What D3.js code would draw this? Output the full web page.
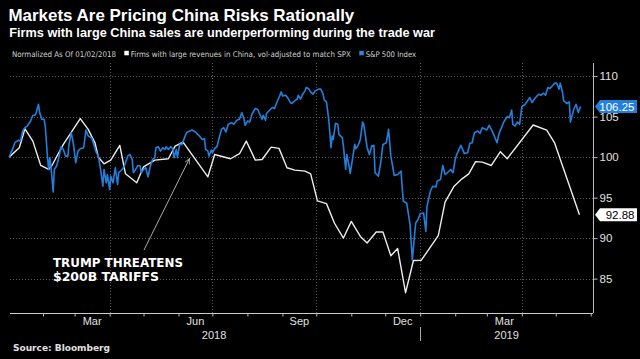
<!DOCTYPE html>
<html><head><meta charset="utf-8">
<script src="https://cdn.jsdelivr.net/npm/d3@7"></script>
<style>
html,body{margin:0;padding:0;background:#000;}
svg{display:block;}
</style></head>
<body>
<script>
// ---------- DATA ----------
const startDate = new Date(2018, 0, 1);
// days since 2018-01-01
const spxDays = [1,4,6,9,11,13,15,17,20,22,24,25,27,28,30,32,33,35,36,37,38,40,41,43,45,47,49,51,53,54,56,58,60,62,64,67,69,71,74,76,78,80,82,84,85,87,88,90,91,93,95,97,98,101,103,106,108,110,111,113,115,117,118,120,122,124,126,128,130,131,133,135,137,139,140,142,144,146,147,149,150,152,154,156,158,161,163,166,168,170,172,174,175,177,178,180,181,183,185,187,189,191,193,195,198,200,201,203,205,207,209,210,212,214,216,219,221,223,225,226,228,229,231,234,236,238,240,242,243,246,248,250,251,254,256,257,259,261,263,264,266,268,270,272,275,277,279,280,282,284,286,287,288,290,292,293,296,297,299,300,302,303,305,307,308,310,312,314,315,318,320,322,324,325,328,330,332,335,337,339,342,345,348,350,353,356,358,361,363,365,368,370,371,374,376,379,380,383,385,387,389,392,394,396,397,401,404,407,409,411,413,416,418,420,424,426,428,430,433,435,437,439,442,444,446,447,449,451,453,455,458,460,462,464,466,468,470,472,474,476,478,480,482,484,486,488,489,491,492,495,497,498,501,503,505,507];
const spxValues = [100,100.95,101.78,102.07,101.98,103.22,103.64,103.84,104.46,105.17,105.17,105.5,106.53,105.5,104.67,104.67,103.84,99.93,98.48,99.93,98.9,95.71,98.48,98.9,99.93,101.29,100.95,100.12,100.12,101.57,103.02,101.57,99.3,100.74,101.04,101.16,103.35,102.6,102.4,101.57,100.62,100.12,98.48,96.4,98.48,96.83,97.86,96.0,97.65,96.83,98.69,96.62,98.07,98.48,98.9,100.12,100.33,99.72,98.07,98.48,98.97,98.9,98.07,98.48,98.69,97.57,98.9,99.72,99.93,101.16,101.29,100.74,101.16,100.95,101.29,100.95,101.29,101.04,99.93,100.95,99.93,101.57,101.57,102.28,103.02,103.22,103.35,103.1,102.81,102.53,102.19,102.28,100.95,100.74,100.12,100.87,100.54,101.04,101.29,102.4,103.43,103.64,103.1,104.05,104.26,104.05,104.26,104.59,104.67,105.5,104.67,103.93,104.46,104.34,105.29,106.0,105.91,105.29,104.67,105.17,104.55,105.42,105.7,106.12,106.0,106.74,107.36,108.05,107.56,107.64,107.24,106.74,106.62,106.94,107.15,107.64,107.15,107.77,108.18,108.6,108.48,108.05,107.77,108.18,108.39,108.39,107.77,107.06,106.81,104.67,101.16,102.6,102.19,104.17,104.05,102.81,102.4,101.36,98.48,100.33,98.9,97.98,99.72,101.57,101.04,101.45,102.19,104.34,104.05,101.16,100.33,101.36,101.45,98.07,97.65,99.3,101.57,101.78,103.43,100.12,97.73,97.86,98.27,94.55,94.35,91.66,87.32,91.87,92.28,93.02,93.1,90.83,93.93,95.79,96.41,96.33,97.03,97.24,98.97,97.86,98.07,98.48,98.07,99.72,100.21,101.45,100.46,100.54,101.7,101.78,103.02,103.22,102.94,103.64,103.35,103.93,103.43,102.81,101.78,103.02,103.64,104.34,105.0,104.88,105.82,104.05,103.84,104.34,104.05,106.24,106.53,106.94,107.36,106.74,107.15,107.48,107.77,107.64,107.89,107.64,108.6,108.48,108.8,109.13,109.13,108.39,109.13,107.98,106.94,106.62,106.82,104.34,105.91,106.53,105.5,106.25];
const chinaDays = [1,10,15,22,29,36,39,49,64,71,77,80,85,91,99,104,114,120,130,142,148,155,177,183,197,205,211,219,225,233,240,247,254,263,268,274,282,289,297,304,312,318,326,332,339,345,352,359,366,381,387,395,402,408,414,420,428,436,442,465,477,484,506];
const chinaValues = [100,101.16,103.5,101.98,98.97,98.48,99.0,101.57,104.76,103.43,101.78,100.0,99.18,99.63,101.45,97.94,96.83,98.81,99.63,99.8,101.36,101.86,97.57,100.33,99.8,100.42,101.98,99.63,99.71,101.24,101.08,98.69,98.39,98.27,97.94,94.6,94.26,91.87,90.01,92.07,90.21,89.4,90.76,90.76,87.82,88.73,83.26,87.24,87.28,90.3,94.45,96.41,97.32,97.94,99.45,99.38,98.97,100.67,99.8,103.97,103.33,101.75,92.88];
const yTicks = [85, 90, 95, 100, 105, 110];
const monthLabels = ["Mar", "Jun", "Sep", "Dec", "Mar"];
const monthLabelStarts = ["2018-03-01", "2018-06-01", "2018-09-01", "2018-12-01", "2019-03-01"];
const gridDates = ["2018-04-01", "2018-07-01", "2018-10-01", "2019-01-01", "2019-04-01"];
const yearLabels = ["2018", "2019"];
const lastSpx = "106.25";
const lastChina = "92.88";

// ---------- SETUP ----------
const W = 640, H = 359;
const L = 8, R = 593, T = 63, B = 313;
const parse = d3.timeParse("%Y-%m-%d");
const svg = d3.select("body").append("svg").attr("width", W).attr("height", H);
svg.append("rect").attr("width", W).attr("height", H).attr("fill", "#000");

const x = d3.scaleTime().domain([startDate, new Date(2019, 5, 3)]).range([L, R]);
const y = d3.scaleLinear().domain([80.76, 111.62]).range([B, T]);
const toDate = d => d3.timeDay.offset(startDate, d);

const spx = spxDays.map((d, i) => ({date: toDate(d), v: spxValues[i]}));
const china = chinaDays.map((d, i) => ({date: toDate(d), v: chinaValues[i]}));

const axisFont = "'Liberation Sans', Arial, sans-serif";
const narrow = "'Liberation Sans Narrow', 'Arial Narrow', 'Liberation Sans', sans-serif";
const cond = "'DejaVu Sans Condensed', 'Liberation Sans Narrow', 'Roboto', 'Liberation Sans', sans-serif";
const bold = "'DejaVu Sans', 'Liberation Sans', sans-serif";

// size a text so its natural width equals w
function fitFont(sel, w, maxSize) {
  const base = 20;
  sel.attr("font-size", base);
  const len = sel.node().getComputedTextLength();
  let fs = base * w / len;
  if (maxSize && fs > maxSize) fs = maxSize;
  sel.attr("font-size", fs.toFixed(2));
  return sel;
}
function label(txt, x0, y0, w, family, weight, fill, stretch) {
  const s = svg.append("text").attr("x", x0).attr("y", y0).attr("fill", fill)
    .attr("font-family", family).attr("font-weight", weight).text(txt);
  if (stretch) s.attr("font-stretch", stretch);
  return fitFont(s, w);
}

// ---------- TITLES ----------
label("Markets Are Pricing China Risks Rationally", 8.5, 20.7, 346, narrow, "bold", "#fff");
label("Firms with large China sales are underperforming during the trade war", 9.3, 36.7, 426, narrow, "bold", "#fff");

// legend
label("Normalized As Of 01/02/2018", 12, 56.5, 104, cond, "normal", "#d0d0d0", "condensed");
svg.append("rect").attr("x", 124.3).attr("y", 50.8).attr("width", 4.5).attr("height", 4.5).attr("fill", "#fff");
label("Firms with large revenues in China, vol-adjusted to match SPX", 130.7, 56.5, 220, cond, "normal", "#d0d0d0", "condensed");
svg.append("rect").attr("x", 359.3).attr("y", 50.8).attr("width", 4.5).attr("height", 4.5).attr("fill", "#2a84e0");
label("S&P 500 Index", 365.7, 56.5, 50.5, cond, "normal", "#d0d0d0", "condensed");

// ---------- GRID ----------
const grid = svg.append("g").attr("stroke", "#5a5a5a").attr("stroke-width", 1).attr("stroke-dasharray", "1,2");
yTicks.forEach(t => {
  grid.append("line").attr("x1", 10).attr("x2", R).attr("y1", Math.round(y(t)) + 0.5).attr("y2", Math.round(y(t)) + 0.5);
});
gridDates.forEach(g => {
  const gx = Math.round(x(parse(g))) + 0.5;
  grid.append("line").attr("x1", gx).attr("x2", gx).attr("y1", T).attr("y2", B);
});

// ---------- AXES ----------
const yAxis = d3.axisRight(y).tickValues(yTicks).tickSize(4).tickPadding(2).tickFormat(d3.format("d"));
const gy = svg.append("g").attr("transform", `translate(${R + 0.5},0)`).call(yAxis);
gy.select(".domain").attr("stroke", "#bbb").attr("d", `M0,${T}V${B}`);
gy.selectAll(".tick line").attr("stroke", "#bbb");
gy.selectAll(".tick text").attr("fill", "#e0e0e0").attr("font-family", axisFont).attr("font-size", 11.5);

const monthTicks = d3.timeMonth.range(new Date(2018, 1, 1), new Date(2019, 5, 2));
const xAxis = d3.axisBottom(x).tickValues(monthTicks).tickSize(3).tickFormat("");
const gx = svg.append("g").attr("transform", `translate(0,${B + 0.5})`).call(xAxis);
gx.select(".domain").attr("stroke", "#ccc").attr("d", `M10,0H${R}`);
gx.selectAll(".tick line").attr("stroke", "#bbb");

monthLabels.forEach((m, i) => {
  const s = parse(monthLabelStarts[i]);
  const e = d3.timeMonth.offset(s, 1);
  svg.append("text").attr("x", (x(s) + x(e)) / 2).attr("y", 325).attr("text-anchor", "middle")
    .attr("fill", "#e0e0e0").attr("font-family", axisFont).attr("font-size", 11).text(m);
});
yearLabels.forEach(yr => {
  const s = d3.max([x.domain()[0], new Date(+yr, 0, 1)]);
  const e = d3.min([x.domain()[1], new Date(+yr + 1, 0, 1)]);
  svg.append("text").attr("x", (x(s) + x(e)) / 2).attr("y", 338.5).attr("text-anchor", "middle")
    .attr("fill", "#e0e0e0").attr("font-family", axisFont).attr("font-size", 11).text(yr);
});
const sepX = Math.round(x(new Date(2019, 0, 1))) + 0.5;
svg.append("line").attr("x1", sepX).attr("x2", sepX).attr("y1", 327).attr("y2", 341).attr("stroke", "#aaa");

// ---------- LINES ----------
const line = d3.line().x(d => x(d.date)).y(d => y(d.v));
svg.append("path").datum(china).attr("d", line).attr("fill", "none").attr("stroke", "#ececec").attr("stroke-width", 1.4).attr("stroke-linejoin", "round");
svg.append("path").datum(spx).attr("d", line).attr("fill", "none").attr("stroke", "#2280dc").attr("stroke-width", 1.6).attr("stroke-linejoin", "round");

// ---------- LAST VALUE LABELS ----------
function tag(val, fill, textFill) {
  const cy = y(+val);
  const x0 = R + 2, h = 13;
  svg.append("path").attr("d", `M${x0},${cy} L${x0 + 5},${cy - h / 2} H${637} V${cy + h / 2} H${x0 + 5} Z`).attr("fill", fill);
  svg.append("text").attr("x", 634.5).attr("y", cy + 4).attr("text-anchor", "end").attr("fill", textFill)
    .attr("font-family", axisFont).attr("font-size", 11.5).text(val);
}
tag(lastSpx, "#2280dc", "#fff");
tag(lastChina, "#fff", "#000");

// ---------- ANNOTATION ----------
const defs = svg.append("defs");
defs.append("marker").attr("id", "ah").attr("viewBox", "0 0 10 10").attr("refX", 9).attr("refY", 5)
  .attr("markerWidth", 6).attr("markerHeight", 6).attr("orient", "auto")
  .append("path").attr("d", "M0,1 L9,5 L0,9").attr("fill", "none").attr("stroke", "#aaa").attr("stroke-width", 1.5);
svg.append("line").attr("x1", 144).attr("y1", 250).attr("x2", 189.5).attr("y2", 158.5)
  .attr("stroke", "#aaa").attr("stroke-width", 1).attr("marker-end", "url(#ah)");
svg.append("text").attr("x", 53).attr("y", 266.5).attr("fill", "#fff").attr("font-family", bold)
  .attr("font-weight", "bold").attr("font-size", 11.5).attr("textLength", 130).attr("lengthAdjust", "spacingAndGlyphs").text("TRUMP THREATENS");
svg.append("text").attr("x", 53).attr("y", 281).attr("fill", "#fff").attr("font-family", bold)
  .attr("font-weight", "bold").attr("font-size", 11.5).attr("textLength", 106).attr("lengthAdjust", "spacingAndGlyphs").text("$200B TARIFFS");

// source
label("Source: Bloomberg", 13, 350.5, 97, bold, "bold", "#e0e0e0");
</script>
</body></html>
